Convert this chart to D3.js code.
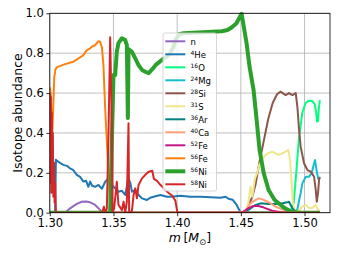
<!DOCTYPE html>
<html><head><meta charset="utf-8">
<script src="https://cdn.jsdelivr.net/npm/d3@7"></script>
<style>body{margin:0;background:#fff}svg{display:block}text{font-family:"DejaVu Sans",sans-serif}</style>
</head><body><svg id="c" width="342" height="257"></svg>
<script>
const xTicks = [1.30, 1.35, 1.40, 1.45, 1.50];
const yTicks = [0.0, 0.2, 0.4, 0.6, 0.8, 1.0];
const names = ["n", "4He", "16O", "24Mg", "28Si", "31S", "36Ar", "40Ca", "52Fe", "56Fe", "56Ni", "58Ni"];
const colors = ["#9467bd", "#1f77b4", "#00ff7f", "#17becf", "#8c564b", "#f0e68c", "#008080", "#ffa07a", "#c71585", "#ff7f0e", "#2ca02c", "#d62728"];

const n_ = [[1.30,0],[1.312,0],[1.3159,0.022],[1.3212,0.044],[1.3251,0.055],[1.3285,0.056],[1.3317,0.052],[1.3356,0.039],[1.3395,0.014],[1.3413,0],[1.512,0]];
const he4 = [[1.30,0],[1.3042,0],[1.3048,0.265],[1.3054,0.262],[1.308,0.25],[1.3106,0.24],[1.3135,0.235],[1.3159,0.222],[1.3183,0.215],[1.3212,0.19],[1.3238,0.18],[1.3264,0.156],[1.3285,0.16],[1.3303,0.13],[1.3317,0.156],[1.3332,0.135],[1.3356,0.13],[1.3382,0.139],[1.3409,0.12],[1.3435,0.155],[1.3461,0.172],[1.3487,0.14],[1.3513,0.122],[1.3539,0.105],[1.3566,0.11],[1.3592,0.089],[1.3618,0.172],[1.3632,0.15],[1.3645,0.105],[1.3671,0.115],[1.3697,0.089],[1.3724,0.072],[1.3763,0.064],[1.3789,0.075],[1.3815,0.08],[1.3868,0.089],[1.392,0.08],[1.3954,0.08],[1.4025,0.085],[1.4104,0.08],[1.4183,0.08],[1.4261,0.078],[1.434,0.075],[1.438,0.08],[1.4403,0.07],[1.4435,0.065],[1.4466,0.04],[1.4498,0.0],[1.512,0.002]];
const o16 = [[1.30,0],[1.489,0.004],[1.4915,0.05],[1.4935,0.2],[1.4955,0.365],[1.4982,0.5],[1.5008,0.55],[1.5035,0.562],[1.5062,0.56],[1.508,0.545],[1.5092,0.5],[1.5098,0.457],[1.5106,0.46],[1.5112,0.52],[1.512,0.565]];
const mg24 = [[1.30,0],[1.4925,0.0],[1.4945,0.02],[1.4957,0.06],[1.497,0.10],[1.4983,0.147],[1.501,0.18],[1.5035,0.18],[1.5057,0.2],[1.5075,0.248],[1.5083,0.264],[1.5094,0.215],[1.5106,0.172],[1.512,0.164]];
const si28 = [[1.30,0],[1.4506,0],[1.4537,0.01],[1.4558,0.03],[1.459,0.08],[1.4615,0.14],[1.4645,0.25],[1.468,0.36],[1.4715,0.47],[1.475,0.55],[1.4785,0.595],[1.4812,0.607],[1.4852,0.59],[1.4878,0.60],[1.4905,0.59],[1.4931,0.60],[1.4944,0.53],[1.4957,0.415],[1.497,0.33],[1.4996,0.248],[1.5023,0.214],[1.5049,0.206],[1.5075,0.18],[1.5088,0.114],[1.5096,0.055],[1.5106,0.097],[1.5114,0.164],[1.512,0.18]];
const s31 = [[1.30,0],[1.4537,0],[1.4558,0.05],[1.4576,0.13],[1.459,0.08],[1.461,0.17],[1.4629,0.2],[1.4645,0.24],[1.4669,0.27],[1.4694,0.29],[1.472,0.3],[1.4747,0.306],[1.4773,0.298],[1.4799,0.29],[1.4826,0.298],[1.4852,0.306],[1.4873,0.315],[1.4886,0.265],[1.4897,0.164],[1.4909,0.047],[1.4925,0.005],[1.4957,0.013],[1.4983,0.03],[1.501,0.039],[1.5035,0.024],[1.506,0.024],[1.5088,0.039],[1.511,0.01],[1.512,0.005]];
const ar36 = [[1.30,0],[1.4506,0],[1.4537,0.005],[1.4576,0.022],[1.4616,0.039],[1.4655,0.047],[1.472,0.044],[1.4773,0.044],[1.4826,0.047],[1.4865,0.052],[1.4878,0.055],[1.4905,0.022],[1.493,0.005],[1.512,0.002]];
const ca40 = [[1.30,0],[1.4506,0],[1.4537,0.01],[1.4576,0.047],[1.4616,0.064],[1.4642,0.072],[1.4669,0.067],[1.4694,0.06],[1.4734,0.047],[1.4773,0.03],[1.4826,0.017],[1.4878,0.013],[1.4925,0.004],[1.512,0]];
const fe52 = [[1.30,0],[1.4506,0],[1.4519,0.005],[1.4558,0.022],[1.4598,0.034],[1.4637,0.034],[1.4676,0.027],[1.4716,0.017],[1.4755,0.008],[1.4807,0.003],[1.49,0],[1.512,0]];
const fe56 = [[1.30,0.63],[1.3007,0.6],[1.3013,0.45],[1.302,0.4],[1.3028,0.55],[1.3035,0.68],[1.3045,0.72],[1.3057,0.73],[1.312,0.745],[1.3185,0.757],[1.3264,0.79],[1.3291,0.815],[1.3317,0.824],[1.333,0.833],[1.3356,0.84],[1.3382,0.86],[1.3395,0.857],[1.3409,0.83],[1.3421,0.74],[1.3435,0.52],[1.3448,0.356],[1.3461,0.19],[1.3474,0.04],[1.3482,0],[1.512,0]];
const ni56 = [[1.30,0],[1.3474,0],[1.3487,0.35],[1.3500,0.69],[1.3513,0.69],[1.3526,0.807],[1.3539,0.85],[1.3566,0.875],[1.3592,0.866],[1.3605,0.84],[1.3613,0.475],[1.3618,0.82],[1.3645,0.807],[1.3671,0.774],[1.3697,0.74],[1.3724,0.716],[1.375,0.707],[1.3776,0.70],[1.3805,0.72],[1.383,0.74],[1.3868,0.76],[1.392,0.785],[1.3946,0.80],[1.397,0.83],[1.399,0.87],[1.4015,0.895],[1.405,0.90],[1.42,0.905],[1.435,0.91],[1.4395,0.916],[1.443,0.93],[1.4466,0.95],[1.449,0.98],[1.4506,0.997],[1.4545,0.85],[1.4569,0.73],[1.46,0.615],[1.4624,0.465],[1.4647,0.315],[1.4679,0.2],[1.4718,0.114],[1.4765,0.064],[1.4844,0.023],[1.49,0.005],[1.497,0],[1.512,0]];
const ni58 = [[1.30,0.6],[1.3004,0.15],[1.3008,0.58],[1.3012,0.1],[1.3016,0.5],[1.302,0.12],[1.3024,0.4],[1.3028,0.08],[1.3033,0.25],[1.3038,0.05],[1.3042,0.15],[1.3048,0],[1.341,0],[1.3425,0.03],[1.3435,0],[1.3448,0.02],[1.3461,0.4],[1.3474,0.88],[1.3487,0.44],[1.3492,0],[1.3505,0.02],[1.3513,0.07],[1.3526,0.155],[1.3539,0.04],[1.3566,0.013],[1.3579,0.055],[1.3592,0],[1.3605,0.055],[1.3618,0.448],[1.3623,0],[1.3645,0.01],[1.3658,0.09],[1.3671,0.122],[1.3684,0.072],[1.3697,0.139],[1.3724,0.172],[1.375,0.19],[1.3776,0.205],[1.3805,0.21],[1.3817,0.17],[1.3842,0.16],[1.3868,0.14],[1.3899,0.12],[1.3931,0.1],[1.3962,0.085],[1.3986,0.06],[1.4002,0],[1.512,0]];
const seriesData = [n_, he4, o16, mg24, si28, s31, ar36, ca40, fe52, fe56, ni56, ni58];

const svg = d3.select("#c");
const L = 49.8, R = 330, T = 13.3, B = 212.7;
const x = d3.scaleLinear().domain([1.30, 1.52]).range([L, R]);
const y = d3.scaleLinear().domain([0, 1]).range([B, T]);

// grid
const g = svg.append("g");
g.selectAll(".gx").data(xTicks).enter().append("line")
  .attr("x1", d => x(d)).attr("x2", d => x(d)).attr("y1", T).attr("y2", B)
  .attr("stroke", "#b0b0b0").attr("stroke-width", 0.8);
g.selectAll(".gy").data(yTicks).enter().append("line")
  .attr("y1", d => y(d)).attr("y2", d => y(d)).attr("x1", L).attr("x2", R)
  .attr("stroke", "#b0b0b0").attr("stroke-width", 0.8);

svg.append("clipPath").attr("id", "clip").append("rect")
  .attr("x", L).attr("y", T - 2).attr("width", R - L).attr("height", B - T + 2);

const line = d3.line().x(d => x(d[0])).y(d => y(d[1]));
const lg = svg.append("g").attr("clip-path", "url(#clip)");
seriesData.forEach((s, i) => {
  lg.append("path").attr("d", line(s)).attr("fill", "none")
    .attr("stroke", colors[i]).attr("stroke-width", names[i] === "56Ni" ? 4 : 2)
    .attr("stroke-linejoin", "round");
});

// axes
const xa = svg.append("g").attr("transform", `translate(0,${B})`)
  .call(d3.axisBottom(x).tickValues(xTicks).tickFormat(d3.format(".2f")).tickSize(3.5).tickPadding(2.5));
const ya = svg.append("g").attr("transform", `translate(${L},0)`)
  .call(d3.axisLeft(y).tickValues(yTicks).tickFormat(d3.format(".1f")).tickSize(3.5).tickPadding(2.5));
[xa, ya].forEach(a => {
  a.selectAll("text").attr("font-size", 11.5).attr("fill", "#000").attr("font-family", "DejaVu Sans");
  a.selectAll("line").attr("stroke", "#000").attr("stroke-width", 0.8);
  a.select(".domain").remove();
});
svg.append("rect").attr("x", L).attr("y", T).attr("width", R - L).attr("height", B - T)
  .attr("fill", "none").attr("stroke", "#000").attr("stroke-width", 0.8);

// axis labels
svg.append("text").attr("transform", `translate(21.5,${(T + B) / 2}) rotate(-90)`)
  .attr("text-anchor", "middle").attr("font-size", 12.5).text("Isotope abundance");
const xl = svg.append("text").attr("x", (L + R) / 2).attr("y", 242).attr("text-anchor", "middle").attr("font-size", 12.5);
xl.append("tspan").attr("font-style", "italic").text("m");
xl.append("tspan").text("\u2009[");
xl.append("tspan").attr("font-style", "italic").text("M");
xl.append("tspan").attr("font-size", 8.5).attr("dy", 2.5).text("\u2299");
xl.append("tspan").attr("dy", -2.5).text("]");

// legend
const lx = 163, ly = 33, lw = 53.5, lh = 158;
svg.append("rect").attr("x", lx).attr("y", ly).attr("width", lw).attr("height", lh)
  .attr("rx", 2).attr("fill", "#fff").attr("fill-opacity", 0.8).attr("stroke", "#cccccc").attr("stroke-width", 0.8);
names.forEach((nm, i) => {
  const yy = 41.3 + i * 13;
  svg.append("line").attr("x1", 165.3).attr("x2", 185.3).attr("y1", yy).attr("y2", yy)
    .attr("stroke", colors[i]).attr("stroke-width", nm === "56Ni" ? 4 : 2);
  const t = svg.append("text").attr("x", 190.5).attr("y", yy + 3.2).attr("font-size", 8.5);
  const m = nm.match(/^(\d*)(\D+)$/);
  if (m[1]) t.append("tspan").attr("font-size", 6).attr("dy", -3).text(m[1]);
  t.append("tspan").attr("dy", m[1] ? 3 : 0).text(m[2]);
});
</script></body></html>
